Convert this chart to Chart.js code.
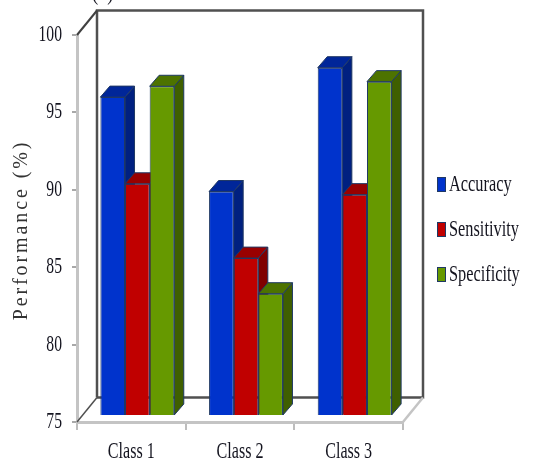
<!DOCTYPE html>
<html>
<head>
<meta charset="utf-8">
<style>
  html, body { margin: 0; padding: 0; background: #fff; }
  canvas { display: block; }
</style>
<script src="https://cdn.jsdelivr.net/npm/chart.js@4/dist/chart.umd.min.js"></script>
</head>
<body>
<canvas id="myChart" width="533" height="466"></canvas>
<script>
const classes = ["Class 1", "Class 2", "Class 3"];
const accuracy = [95.6, 89.5, 97.5];
const sensitivity = [90.0, 85.2, 89.3];
const specificity = [96.3, 82.9, 96.6];
const yTicks = [75, 80, 85, 90, 95, 100];
const yTitle = "Performance (%)";
const caption = "(b)";

const seriesColors = [
  { name: "Accuracy", front: "#0033cc", side: "#002080", top: "#002699", values: accuracy },
  { name: "Sensitivity", front: "#c00000", side: "#800000", top: "#990000", values: sensitivity },
  { name: "Specificity", front: "#669900", side: "#3f5f00", top: "#4d7300", values: specificity },
];

const textFont = '23px "Liberation Serif"';
const textColor = "#14141f";

// text is tall and narrow, fillText's maxWidth does the squeezing
function narrowText(ctx, text, x, y, align, squeeze) {
  ctx.font = textFont;
  ctx.fillStyle = textColor;
  ctx.textAlign = align;
  ctx.textBaseline = "middle";
  ctx.fillText(text, x, y, ctx.measureText(text).width * squeeze);
}

function line(ctx, color, width, points) {
  ctx.strokeStyle = color;
  ctx.lineWidth = width;
  ctx.beginPath();
  points.forEach((p, i) => (i ? ctx.lineTo(p[0], p[1]) : ctx.moveTo(p[0], p[1])));
  ctx.stroke();
}

function face(ctx, color, points) {
  ctx.fillStyle = color;
  ctx.strokeStyle = "#1f3864";
  ctx.lineWidth = 1;
  ctx.beginPath();
  points.forEach((p, i) => (i ? ctx.lineTo(p[0], p[1]) : ctx.moveTo(p[0], p[1])));
  ctx.closePath();
  ctx.fill();
  ctx.stroke();
}

const box3d = {
  id: "box3d",
  beforeDatasetsDraw(chart) {
    const { ctx, chartArea: a } = chart;
    const dx = 20, dy = 24.5;
    ctx.save();
    // back wall and floor
    line(ctx, "#505050", 2.5, [[a.left + dx, a.bottom - dy], [a.left + dx, a.top - dy], [a.right + dx, a.top - dy], [a.right + dx, a.bottom - dy], [a.left + dx, a.bottom - dy]]);
    line(ctx, "#404040", 2, [[a.left, a.top], [a.left + dx, a.top - dy]]);
    line(ctx, "#505050", 1.5, [[a.left, a.bottom], [a.left + dx, a.bottom - dy]]);
    line(ctx, "#c4c4c4", 2.5, [[a.right, a.bottom], [a.right + dx, a.bottom - dy]]);
    ctx.restore();
  },
  // the library paints datasets last to first, here they need first to last
  beforeDatasetDraw() {
    return false;
  },
  afterDatasetsDraw(chart) {
    const { ctx } = chart;
    const dx = 9.5, dy = 11;
    ctx.save();
    ctx.translate(6, -6);
    seriesColors.forEach((s, i) => {
      chart.getDatasetMeta(i).data.forEach((bar) => {
        const { x, y, base, width } = bar.getProps(["x", "y", "base", "width"], true);
        const r = x + width / 2, l = x - width / 2;
        face(ctx, s.side, [[r, y], [r + dx, y - dy], [r + dx, base - dy], [r, base]]);
        face(ctx, s.top, [[l, y], [l + dx, y - dy], [r + dx, y - dy], [r, y]]);
        bar.draw(ctx);
      });
    });
    ctx.restore();
  },
  afterDraw(chart) {
    const { ctx, scales } = chart;
    ctx.save();
    // value axis labels
    scales.y.getTicks().forEach((t, i) => {
      narrowText(ctx, String(t.value), 62, scales.y.getPixelForTick(i), "right", 0.68);
    });
    // class labels
    classes.forEach((c, i) => {
      narrowText(ctx, c, scales.x.getPixelForTick(i), 452, "center", 0.7);
    });
    // legend
    seriesColors.forEach((s, i) => {
      const cy = 184.5 + i * 45;
      ctx.fillStyle = s.front;
      ctx.strokeStyle = "#1f3864";
      ctx.lineWidth = 1;
      ctx.fillRect(437.5, cy - 7, 8, 14);
      ctx.strokeRect(437.5, cy - 7, 8, 14);
      narrowText(ctx, s.name, 449, cy, "left", 0.71);
    });
    narrowText(ctx, caption, 92, -6, "left", 0.8);
    // spaced out axis title
    ctx.translate(22, 230);
    ctx.rotate(-Math.PI / 2);
    ctx.font = '20px "Liberation Serif"';
    ctx.letterSpacing = "2.9px";
    ctx.fillStyle = "#333";
    ctx.textAlign = "center";
    ctx.textBaseline = "middle";
    ctx.fillText(yTitle, 0, 0);
    ctx.restore();
  },
};

new Chart(document.getElementById("myChart"), {
  type: "bar",
  data: {
    labels: classes,
    datasets: seriesColors.map((s) => ({
      label: s.name,
      data: s.values,
      base: 75,
      backgroundColor: s.front,
      borderColor: "#1f3864",
      borderWidth: 1,
      barPercentage: 1,
      categoryPercentage: 0.68,
    })),
  },
  options: {
    responsive: false,
    animation: false,
    layout: { padding: { top: 35, right: 130, left: 0, bottom: 0 } },
    plugins: { legend: { display: false }, tooltip: { enabled: false } },
    scales: {
      x: {
        ticks: { display: false },
        grid: { drawOnChartArea: false, tickLength: 8, color: "#bdbdbd", lineWidth: 2 },
        border: { color: "#c4c4c4", width: 3 },
        afterFit: (scale) => { scale.height = 44; },
      },
      y: {
        min: 75,
        max: 100,
        afterBuildTicks: (scale) => { scale.ticks = yTicks.map((value) => ({ value })); },
        ticks: { display: false },
        grid: { drawOnChartArea: false, tickLength: 5, color: "#a8a8a8", lineWidth: 2 },
        border: { color: "#c4c4c4", width: 3 },
        afterFit: (scale) => { scale.width = 77; },
      },
    },
  },
  plugins: [box3d],
});
</script>
</body>
</html>
